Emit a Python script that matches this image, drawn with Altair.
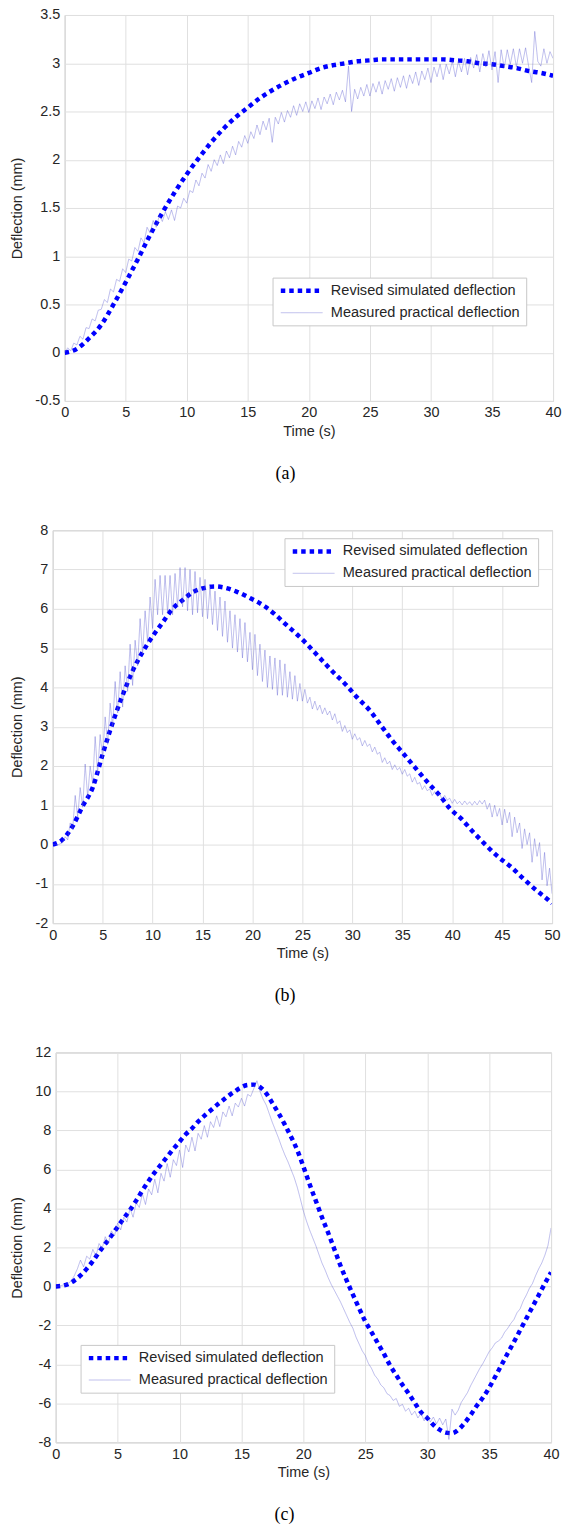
import altair as alt
import pandas as pd

SERIES = ["Revised simulated deflection", "Measured practical deflection"]
SIM_COLOR = "#0000ff"
MEAS_COLOR = "#5a5ad2"
MEAS_STEP = 0.25

# ---------------- panel (a) ----------------
SIM_A_T = list(range(41))
SIM_A_V = [0, 0.04, 0.15, 0.29, 0.5, 0.73, 0.97, 1.22, 1.45, 1.66,
           1.85, 2.02, 2.18, 2.32, 2.44, 2.54, 2.64, 2.72, 2.79, 2.85,
           2.9, 2.95, 2.98, 3.0, 3.02, 3.03, 3.04, 3.04, 3.04, 3.04,
           3.04, 3.04, 3.03, 3.02, 3.0, 2.99, 2.97, 2.95, 2.92, 2.9, 2.87]
MEAS_A_V = [0.00, 0.05, 0.02, 0.10, 0.08, 0.17, 0.14, 0.26,
            0.25, 0.35, 0.33, 0.44, 0.45, 0.55, 0.52, 0.66,
            0.63, 0.76, 0.74, 0.87, 0.83, 0.97, 0.95, 1.09,
            1.05, 1.19, 1.14, 1.30, 1.24, 1.37, 1.30, 1.42,
            1.36, 1.46, 1.38, 1.48, 1.37, 1.52, 1.50, 1.60,
            1.55, 1.68, 1.66, 1.79, 1.73, 1.86, 1.81, 1.95,
            1.88, 2.00, 1.94, 2.05, 1.96, 2.09, 2.02, 2.14,
            2.05, 2.19, 2.13, 2.25, 2.17, 2.29, 2.22, 2.36,
            2.26, 2.40, 2.31, 2.43, 2.18, 2.44, 2.37, 2.49,
            2.39, 2.51, 2.44, 2.56, 2.46, 2.58, 2.50, 2.60,
            2.49, 2.61, 2.53, 2.64, 2.52, 2.65, 2.58, 2.68,
            2.57, 2.70, 2.62, 2.72, 2.60, 2.97, 2.50, 2.73,
            2.63, 2.75, 2.66, 2.78, 2.66, 2.79, 2.70, 2.81,
            2.68, 2.82, 2.73, 2.84, 2.71, 2.85, 2.75, 2.87,
            2.74, 2.88, 2.79, 2.91, 2.77, 2.92, 2.83, 2.95,
            2.80, 2.96, 2.86, 2.99, 2.83, 2.99, 2.89, 3.02,
            2.86, 3.02, 2.91, 3.05, 2.88, 3.06, 2.95, 3.09,
            2.91, 3.10, 2.96, 3.13, 2.93, 3.12, 2.80, 3.14,
            2.95, 3.14, 2.99, 3.15, 2.96, 3.15, 3.00, 3.16,
            2.97, 2.80, 3.33, 3.02, 2.97, 3.15, 3.00, 3.12,
            3.05]

# ---------------- panel (b) ----------------
SIM_B_T = [0, 1, 2, 3, 4, 5, 6, 7, 8, 9, 10, 11, 12, 13, 14, 15,
           16.25, 17, 18.4, 19.8, 21.25, 22.3, 23.4, 24.5, 25.5, 26.6,
           28, 29.5, 30.5, 31.8, 32.9, 33.9, 35, 36.25, 37.7, 38.75,
           39.8, 40.9, 42.1, 43.2, 44.6, 45.9, 47.1, 48.4, 49.8, 50]
SIM_B_V = [0, 0.13, 0.47, 0.98, 1.45, 2.3, 3.1, 3.8, 4.42, 4.9, 5.3, 5.65, 6.0, 6.22, 6.42, 6.52,
           6.57, 6.55, 6.44, 6.27, 6.06, 5.85, 5.59, 5.34, 5.09, 4.79,
           4.41, 4.03, 3.74, 3.4, 3.02, 2.68, 2.35, 1.97, 1.54, 1.25,
           0.91, 0.66, 0.32, 0.03, -0.31, -0.57, -0.86, -1.16, -1.45, -1.5]
MEAS_B_V = [0.00, 0.01, -0.01, 0.02, 0.05, 0.20, 0.12, 0.55,
            0.40, 1.25, 0.70, 1.45, 0.95, 2.05, 1.20, 2.00,
            1.55, 2.75, 1.80, 2.80, 2.20, 3.25, 2.55, 3.60,
            3.00, 4.15, 3.35, 4.40, 3.50, 4.55, 3.90, 5.10,
            4.05, 5.20, 4.55, 5.75, 4.85, 5.95, 5.15, 6.30,
            5.50, 6.75, 5.85, 6.85, 5.85, 6.85, 5.90, 6.85,
            5.85, 6.90, 6.05, 7.05, 6.05, 7.05, 5.95, 7.00,
            5.85, 6.95, 5.90, 6.80, 5.80, 6.75, 5.75, 6.55,
            5.60, 6.45, 5.45, 6.30, 5.30, 6.20, 5.15, 5.95,
            5.00, 5.85, 4.90, 5.75, 4.75, 5.65, 4.65, 5.40,
            4.45, 5.35, 4.30, 5.10, 4.15, 4.95, 4.00, 4.80,
            3.95, 4.75, 3.80, 4.70, 3.80, 4.60, 3.75, 4.40,
            3.70, 4.30, 3.65, 4.10, 3.65, 3.95, 3.60, 3.75,
            3.45, 3.65, 3.42, 3.55, 3.33, 3.48, 3.30, 3.40,
            3.17, 3.33, 3.08, 3.15, 2.88, 3.03, 2.85, 2.92,
            2.68, 2.82, 2.66, 2.72, 2.51, 2.65, 2.50, 2.56,
            2.36, 2.48, 2.30, 2.35, 2.09, 2.21, 2.05, 2.12,
            1.91, 2.03, 1.90, 1.96, 1.79, 1.91, 1.74, 1.80,
            1.59, 1.71, 1.54, 1.58, 1.40, 1.50, 1.37, 1.42,
            1.25, 1.35, 1.24, 1.29, 1.15, 1.25, 1.13, 1.18,
            1.05, 1.15, 1.04, 1.10, 1.01, 1.11, 1.02, 1.09,
            1.00, 1.10, 1.01, 1.12, 1.03, 1.13, 0.90, 1.05,
            0.70, 1.00, 0.72, 0.92, 0.50, 0.90, 0.55, 0.82,
            0.20, 0.70, 0.30, 0.55, -0.10, 0.40, 0.00, 0.30,
            -0.45, 0.15, -0.30, 0.05, -0.90, -0.20, -1.05, -0.60,
            -1.25]

# ---------------- panel (c) ----------------
SIM_C_T = [i * 0.5 for i in range(81)]
SIM_C_V = [0, 0.03, 0.12, 0.3, 0.56, 0.9, 1.3, 1.75, 2.18, 2.6,
           3.05, 3.5, 3.92, 4.4, 4.92, 5.4, 5.85, 6.25, 6.65, 7.05,
           7.42, 7.8, 8.1, 8.45, 8.75, 9.02, 9.3, 9.55, 9.8, 10.02,
           10.22, 10.33, 10.35, 10.22, 9.9, 9.4, 8.88, 8.3, 7.68, 7.0,
           6.15, 5.25, 4.4, 3.55, 2.75, 1.91, 1.06, 0.3, -0.42, -1.12,
           -1.8, -2.34, -2.9, -3.45, -4.05, -4.55, -5.05, -5.49, -5.98, -6.45,
           -6.75, -7.1, -7.35, -7.5, -7.53, -7.36, -7.02, -6.6, -6.12, -5.7,
           -5.2, -4.62, -4.03, -3.43, -2.85, -2.25, -1.65, -1.05, -0.45, 0.15,
           0.72]
MEAS_C_V = [0.00, 0.02, 0.05, 0.10, 0.15, 0.28, 0.55, 0.90,
            1.35, 1.00, 1.55, 1.40, 1.90, 1.55, 2.20, 1.95,
            2.55, 2.20, 2.85, 2.60, 3.25, 2.90, 3.55, 3.30,
            4.00, 3.55, 4.30, 4.05, 4.75, 4.20, 5.00, 4.70,
            5.50, 4.80, 5.80, 5.40, 6.30, 5.60, 6.50, 6.20,
            7.00, 6.10, 7.25, 6.90, 7.65, 6.95, 7.85, 7.55,
            8.25, 7.65, 8.45, 8.15, 8.75, 8.20, 8.95, 8.70,
            9.25, 8.75, 9.40, 9.20, 9.65, 9.25, 9.85, 9.75,
            10.15, 10.55, 10.00, 9.60, 9.30, 8.85, 8.40, 8.00,
            7.60, 7.15, 6.75, 6.40, 6.00, 5.60, 5.10, 4.50,
            3.87, 3.35, 2.90, 2.50, 2.10, 1.65, 1.20, 0.85,
            0.45, 0.10, -0.20, -0.50, -0.80, -1.15, -1.50, -1.85,
            -2.15, -2.60, -2.95, -3.30, -3.55, -3.95, -4.20, -4.55,
            -4.75, -5.05, -5.20, -5.50, -5.60, -5.85, -5.75, -6.15,
            -6.05, -6.40, -6.25, -6.60, -6.40, -6.75, -6.50, -6.90,
            -6.60, -6.95, -6.70, -7.05, -6.75, -7.10, -6.80, -7.85,
            -6.30, -6.60, -6.35, -5.95, -5.70, -5.45, -5.10, -4.80,
            -4.50, -4.20, -3.95, -3.65, -3.35, -3.15, -2.90, -2.80,
            -2.65, -2.35, -2.15, -1.90, -1.70, -1.35, -1.15, -0.75,
            -0.45, -0.10, 0.15, 0.55, 0.90, 1.20, 1.60, 2.10,
            3.00]

FONT = "Liberation Sans"
FS = 14.5
INDEP = dict(color="independent", strokeDash="independent",
             strokeWidth="independent", opacity="independent")


def make_df(sim_t, sim_v, meas_v):
    rows = [{"t": t, "v": v, "series": SERIES[0]} for t, v in zip(sim_t, sim_v)]
    rows += [{"t": i * MEAS_STEP, "v": v, "series": SERIES[1]} for i, v in enumerate(meas_v)]
    return pd.DataFrame(rows)


def panel(df, xmax, xticks, ydom, yticks, w, h, lx, ly, caption):
    legend = alt.Legend(
        title=None, orient="none", legendX=lx, legendY=ly,
        fillColor="white", strokeColor="#c8c8c8", padding=6, cornerRadius=0,
        labelFont=FONT, labelFontSize=14.6, labelColor="#262626", labelLimit=400,
        symbolType="M-10,0H10", symbolSize=17.64, symbolOffset=16,
        labelOffset=22, rowPadding=4,
    )
    enc = dict(
        x=alt.X("t:Q", scale=alt.Scale(domain=[0, xmax], nice=False, zero=False),
                axis=alt.Axis(values=xticks, title="Time (s)", labelFlush=False,
                              labelPadding=5, titlePadding=5,
                              labelExpr="'' + datum.value")),
        y=alt.Y("v:Q", scale=alt.Scale(domain=ydom, nice=False, zero=False),
                axis=alt.Axis(values=yticks, title="Deflection (mm)",
                              labelPadding=5, titlePadding=10,
                              labelExpr="'' + datum.value")),
        color=alt.Color("series:N", scale=alt.Scale(domain=SERIES, range=[SIM_COLOR, MEAS_COLOR]),
                        legend=legend),
        strokeDash=alt.StrokeDash("series:N",
                                  scale=alt.Scale(domain=SERIES, range=[[4.5, 4], [1, 0]]),
                                  legend=legend),
        strokeWidth=alt.StrokeWidth("series:N", scale=alt.Scale(domain=SERIES, range=[4.5, 0.8]),
                                    legend=legend),
        opacity=alt.Opacity("series:N", scale=alt.Scale(domain=SERIES, range=[1, 0.5]),
                            legend=legend),
    )
    base = alt.Chart(df)
    sim = base.transform_filter(alt.datum.series == SERIES[0]).mark_line(
        interpolate="monotone", clip=True).encode(**enc)
    meas = base.transform_filter(alt.datum.series == SERIES[1]).mark_line(
        clip=True).encode(**enc)
    return alt.layer(sim, meas).properties(
        width=w, height=h,
        title=alt.TitleParams(caption, orient="bottom", frame="bounds", anchor="middle",
                              font="Liberation Serif", fontSize=18, fontWeight="normal",
                              color="black", offset=27),
    )


def spacer():
    return alt.Chart(pd.DataFrame({"s": [0]})).mark_point(size=1, opacity=0).encode(
        x=alt.value(0.5), y=alt.value(0.5)
    ).properties(width=1, height=1, view=alt.ViewBackground(stroke="transparent"))


def row(p):
    return alt.hconcat(spacer(), p, spacing=0).resolve_scale(**INDEP).resolve_legend(**INDEP)


pa = panel(make_df(SIM_A_T, SIM_A_V, MEAS_A_V), 40, list(range(0, 41, 5)), [-0.5, 3.5],
           [-0.5, 0, 0.5, 1, 1.5, 2, 2.5, 3, 3.5], 491, 388, 209, 264, "(a)")
pb = panel(make_df(SIM_B_T, SIM_B_V, MEAS_B_V), 50, list(range(0, 51, 5)), [-2, 8],
           list(range(-2, 9)), 502, 395, 233, 8, "(b)")
pc = panel(make_df(SIM_C_T, SIM_C_V, MEAS_C_V), 40, list(range(0, 41, 5)), [-8, 12],
           list(range(-8, 13, 2)), 498, 392, 25, 294, "(c)")

chart = alt.vconcat(
    row(pa), row(pb), row(pc),
    spacing=38,
).resolve_scale(**INDEP).resolve_legend(**INDEP).properties(
    padding={"left": 6, "top": 2, "right": 0, "bottom": 0},
    background="white",
).configure_axis(
    labelFont=FONT, labelFontSize=FS, labelColor="#262626",
    titleFont=FONT, titleFontSize=FS, titleFontWeight="normal", titleColor="#262626",
    gridColor="#e0e0e0", gridWidth=1, domain=False, ticks=False,
).configure_view(stroke="#bdbdbd", strokeWidth=1)

chart.save("out.html", embed_options={"renderer": "svg", "actions": False})
